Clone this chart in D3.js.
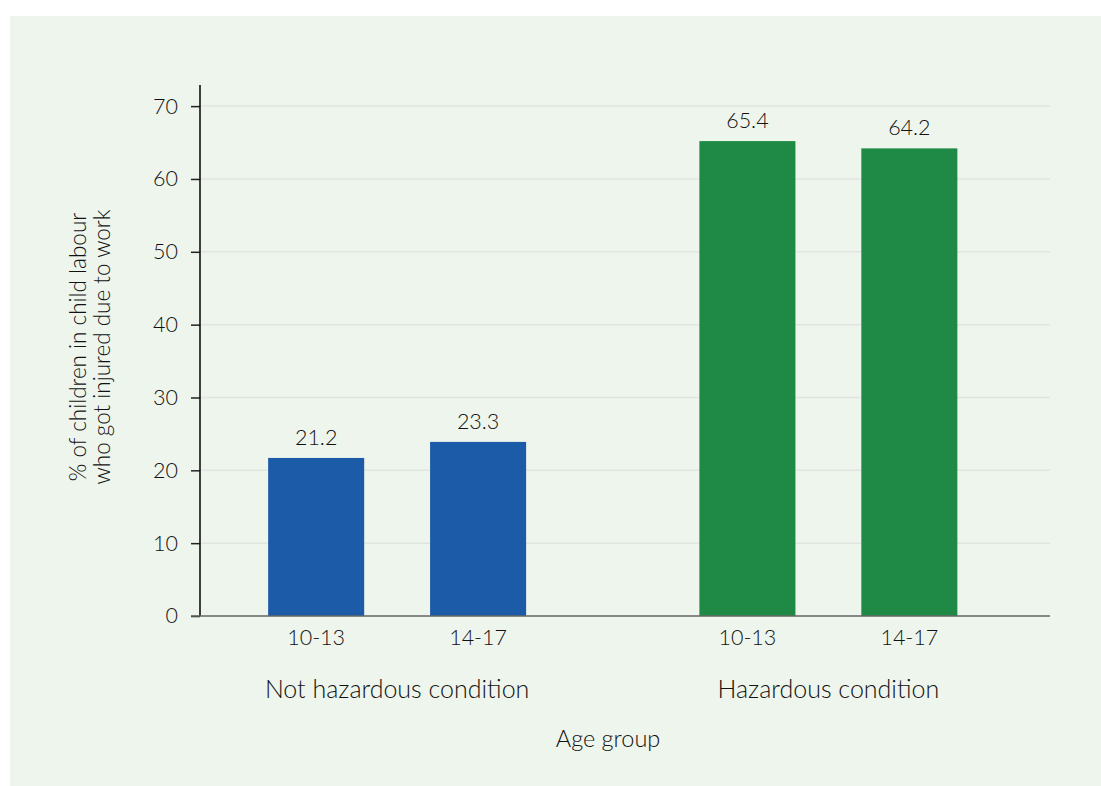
<!DOCTYPE html>
<html>
<head>
<meta charset="utf-8">
<script src="https://cdn.jsdelivr.net/npm/d3@7"></script>
<style>
  html, body { margin: 0; padding: 0; background: #ffffff; }
  svg { display: block; }
  text { font-family: Lato, "Noto Sans", sans-serif; font-weight: 300; fill: #111; }
</style>
</head>
<body>
<svg id="chart" width="1101" height="786"></svg>
<script>
// ---- data ----
const groups = ["Not hazardous condition", "Hazardous condition"];
const ages = ["10-13", "14-17"];
const notHazardousValues = [21.7, 23.9];
const hazardousValues = [65.2, 64.2];
const notHazardousLabels = ["21.2", "23.3"];
const hazardousLabels = ["65.4", "64.2"];
const yTicks = [0, 10, 20, 30, 40, 50, 60, 70];
const yTitleLines = ["% of children in child labour", "who got injured due to work"];
const xTitle = "Age group";

const groupColors = ["#1c5ba8", "#1e8a46"];

const rows = [];
groups.forEach((g, gi) => {
  const vals = gi === 0 ? notHazardousValues : hazardousValues;
  const labs = gi === 0 ? notHazardousLabels : hazardousLabels;
  ages.forEach((a, ai) => rows.push({ group: g, gi, age: a, value: vals[ai], label: labs[ai] }));
});

const svg = d3.select("#chart");

// panel background
svg.append("rect").attr("x", 10).attr("y", 16).attr("width", 1091).attr("height", 770).attr("fill", "#eef5ec");

const plotLeft = 200, plotRight = 1050;
const y = d3.scaleLinear().domain([0, 72.9]).range([616, 85]);
const x0 = d3.scaleBand().domain(groups).range([181.5, 1044]).paddingInner(0).paddingOuter(0);
const x1 = d3.scaleBand().domain(ages).range([0, x0.bandwidth()]).paddingInner(0.407).paddingOuter(0.535);

// gridlines
svg.append("g").selectAll("line").data(yTicks.filter(t => t > 0)).join("line")
  .attr("x1", plotLeft).attr("x2", plotRight)
  .attr("y1", d => y(d)).attr("y2", d => y(d))
  .attr("stroke", "#e1e5e1").attr("stroke-width", 1.5);

// bars
svg.append("g").selectAll("rect").data(rows).join("rect")
  .attr("x", d => x0(d.group) + x1(d.age))
  .attr("width", x1.bandwidth())
  .attr("y", d => y(d.value))
  .attr("height", d => y(0) - y(d.value))
  .attr("fill", d => groupColors[d.gi]);

// value labels
svg.append("g").selectAll("text").data(rows).join("text")
  .attr("x", d => x0(d.group) + x1(d.age) + x1.bandwidth() / 2)
  .attr("y", d => y(d.value) - 13)
  .attr("text-anchor", "middle")
  .attr("font-size", 21.5)
  .text(d => d.label);

// y axis
const yAxis = d3.axisLeft(y).tickValues(yTicks).tickSize(9).tickPadding(13).tickSizeOuter(0);
const yg = svg.append("g").attr("transform", `translate(${plotLeft},0)`).call(yAxis);
yg.select(".domain").remove();
yg.selectAll(".tick line").attr("stroke", "#222").attr("stroke-width", 1.5);
yg.selectAll(".tick text").attr("font-size", 21.5).attr("fill", "#111")
  .style("font-family", "Lato, 'Noto Sans', sans-serif").style("font-weight", 300);
svg.append("line").attr("x1", plotLeft).attr("x2", plotLeft).attr("y1", y(0)).attr("y2", y.range()[1])
  .attr("stroke", "#111").attr("stroke-width", 1.6);

// x baseline
svg.append("line").attr("x1", 191).attr("x2", plotRight).attr("y1", y(0)).attr("y2", y(0))
  .attr("stroke", "#666").attr("stroke-width", 1.6);

// x tick labels (age)
svg.append("g").selectAll("text").data(rows).join("text")
  .attr("x", d => x0(d.group) + x1(d.age) + x1.bandwidth() / 2)
  .attr("y", 645)
  .attr("text-anchor", "middle")
  .attr("font-size", 21.5)
  .text(d => d.age);

// group labels
svg.append("g").selectAll("text").data(groups).join("text")
  .attr("x", d => x0(d) + x0.bandwidth() / 2)
  .attr("y", 698)
  .attr("text-anchor", "middle")
  .attr("font-size", 25)
  .text(d => d);

// x title
svg.append("text").attr("x", 608).attr("y", 747).attr("text-anchor", "middle")
  .attr("font-size", 23.5).text(xTitle);

// y title
const yt = svg.append("text").attr("transform", "translate(0,347) rotate(-90)")
  .attr("text-anchor", "middle").attr("font-size", 22.5);
yTitleLines.forEach((l, i) => {
  yt.append("tspan").attr("x", 0).attr("y", 86 + i * 23.5).text(l);
});
</script>
</body>
</html>
